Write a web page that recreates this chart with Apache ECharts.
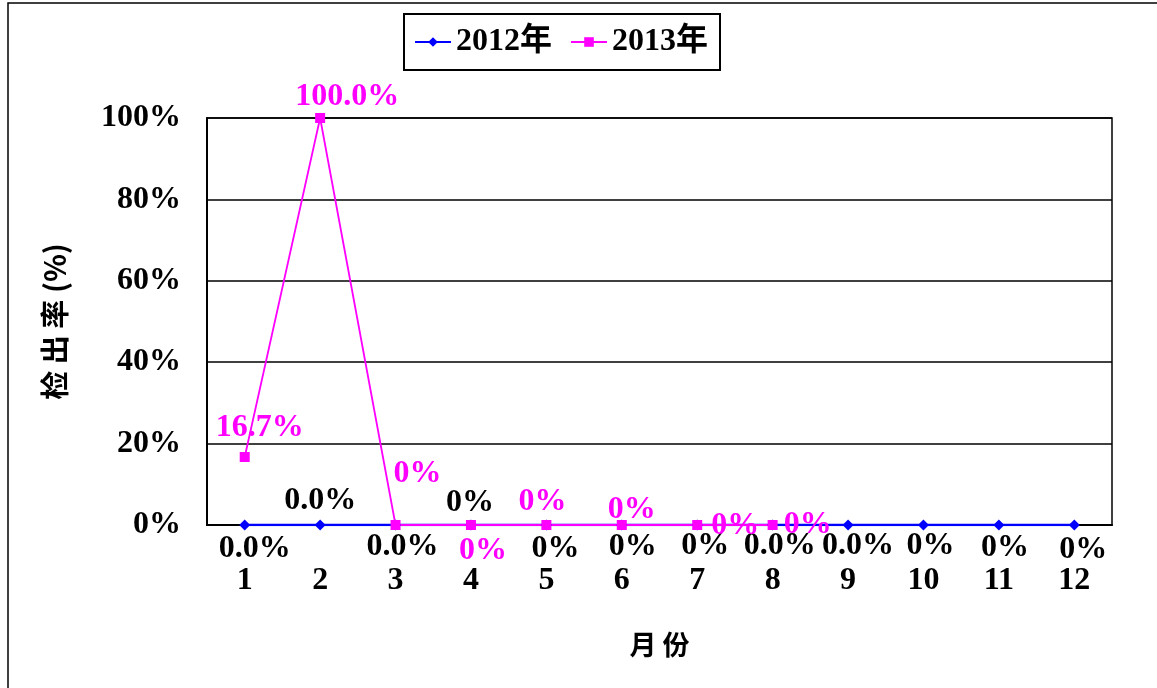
<!DOCTYPE html>
<html>
<head>
<meta charset="utf-8">
<script src="https://cdn.jsdelivr.net/npm/echarts@6/dist/echarts.min.js"></script>
<style>
html, body { margin: 0; padding: 0; background: #fff; }
#main { width: 1157px; height: 688px; }
</style>
</head>
<body>
<div id="main"></div>
<script>
var months = ['1', '2', '3', '4', '5', '6', '7', '8', '9', '10', '11', '12'];
var yTicks = [0, 20, 40, 60, 80, 100];

var rate2012 = [0, 0, 0, 0, 0, 0, 0, 0, 0, 0, 0, 0];
var text2012 = ['0.0%', '0.0%', '0.0%', '0%', '0%', '0%', '0%', '0.0%', '0.0%', '0%', '0%', '0%'];

var rate2013 = [16.7, 100, 0, 0, 0, 0, 0, 0];
var text2013 = ['16.7%', '100.0%', '0%', '0%', '0%', '0%', '0%', '0%'];

// label offsets from each point (layout only)
var offs2012 = [[10, 24], [0, -24], [7, 22], [-1, -22], [9, 24], [11, 22], [8, 21], [7, 21], [10, 21], [7, 21], [6, 23], [9, 25]];
var offs2013 = [[15, -29], [27, -21], [22, -51], [12, 26], [-4, -23], [10, -15], [38, 1], [35, 0]];

var FONT = '"Liberation Serif", "Times New Roman", "Noto Sans CJK SC", serif';
var BLUE = '#0000ff';
var PINK = '#ff00ff';

function build(values, texts, offs) {
	var out = [];
	for (var i = 0; i < values.length; i++) {
		out.push({
			value: values[i],
			label: { offset: offs[i], formatter: texts[i] }
		});
	}
	return out;
}

var myChart = echarts.init(document.getElementById('main'));

var option = {
	backgroundColor: '#fff',
	animation: false,
	graphic: [{
		type: 'rect',
		shape: { x: 8, y: 3, width: 1170, height: 700 },
		style: { fill: 'none', stroke: '#000', lineWidth: 1.5 }
	}],
	legend: {
		left: 404,
		top: 14,
		padding: [12, 12, 12, 10],
		borderColor: '#000',
		borderWidth: 2,
		itemGap: 18,
		itemWidth: 36,
		itemHeight: 12,
		textStyle: { fontFamily: FONT, fontSize: 32, fontWeight: 'bold', color: '#000' },
		data: ['2012年', '2013年']
	},
	grid: {
		left: 207,
		right: 45,
		top: 118,
		bottom: 163,
		show: true,
		borderColor: '#000',
		borderWidth: 1.5
	},
	xAxis: {
		type: 'category',
		data: months,
		boundaryGap: true,
		name: '月 份',
		nameLocation: 'middle',
		nameGap: 106,
		nameTextStyle: { fontFamily: '"Noto Sans CJK SC", sans-serif', fontSize: 27, fontWeight: 'bold', color: '#000' },
		axisLine: { lineStyle: { color: '#000', width: 2 } },
		axisTick: { inside: true, length: 8, lineStyle: { color: '#000', width: 1.5 } },
		axisLabel: { margin: 40, fontFamily: FONT, fontSize: 32, fontWeight: 'bold', color: '#000' }
	},
	yAxis: {
		type: 'value',
		min: 0,
		max: 100,
		interval: 20,
		name: '检 出 率 (%)',
		nameLocation: 'middle',
		nameRotate: 90,
		nameGap: 138,
		nameTextStyle: { fontFamily: '"Noto Sans CJK SC", sans-serif', fontSize: 29, fontWeight: 'bold', color: '#000' },
		axisLine: { show: true, lineStyle: { color: '#000', width: 2 } },
		axisTick: { show: false },
		axisLabel: {
			margin: 26,
			fontFamily: FONT, fontSize: 32, fontWeight: 'bold', color: '#000',
			formatter: function (v) { return yTicks.indexOf(v) >= 0 ? v + '%' : ''; }
		},
		splitLine: { lineStyle: { color: '#000', width: 1.5 } }
	},
	series: [
		{
			name: '2012年',
			type: 'line',
			symbol: 'diamond',
			symbolSize: 11,
			color: BLUE,
			lineStyle: { color: BLUE, width: 2.5 },
			label: {
				show: true,
				position: 'inside',
				fontFamily: FONT, fontSize: 32, fontWeight: 'bold', color: '#000'
			},
			data: build(rate2012, text2012, offs2012)
		},
		{
			name: '2013年',
			type: 'line',
			symbol: 'rect',
			symbolSize: 10,
			color: PINK,
			lineStyle: { color: PINK, width: 1.8 },
			label: {
				show: true,
				position: 'inside',
				fontFamily: FONT, fontSize: 32, fontWeight: 'bold', color: PINK
			},
			data: build(rate2013, text2013, offs2013)
		}
	]
};

myChart.setOption(option);
</script>
</body>
</html>
